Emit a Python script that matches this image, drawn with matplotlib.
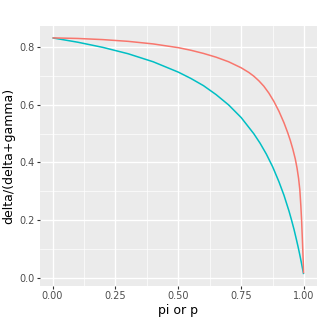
import matplotlib
matplotlib.use("Agg")
import matplotlib.pyplot as plt
from matplotlib.ticker import MultipleLocator

# values
red_p = [0, 0.1, 0.2, 0.3, 0.4, 0.5, 0.55, 0.6, 0.65, 0.7, 0.75, 0.78, 0.8, 0.82, 0.84,
         0.86, 0.88, 0.9, 0.92, 0.935, 0.945, 0.955, 0.965, 0.972, 0.978, 0.983, 0.987,
         0.99, 0.993, 0.995, 0.997, 0.998]
red_v = [0.833, 0.831, 0.827, 0.821, 0.812, 0.799, 0.790, 0.779, 0.766, 0.750, 0.729,
         0.713, 0.700, 0.684, 0.665, 0.641, 0.612, 0.578, 0.538, 0.503, 0.477, 0.447,
         0.412, 0.380, 0.345, 0.305, 0.250, 0.200, 0.135, 0.090, 0.045, 0.015]

teal_p = [0, 0.1, 0.2, 0.3, 0.4, 0.5, 0.55, 0.6, 0.65, 0.7, 0.75, 0.8, 0.825, 0.85,
          0.875, 0.9, 0.92, 0.94, 0.95, 0.96, 0.97, 0.975, 0.98, 0.985, 0.99, 0.998]
teal_v = [0.833, 0.818, 0.800, 0.778, 0.750, 0.714, 0.692, 0.667, 0.636, 0.600, 0.556,
          0.500, 0.467, 0.429, 0.385, 0.333, 0.286, 0.231, 0.200, 0.167, 0.130, 0.111,
          0.091, 0.070, 0.048, 0.012]

x_ticks = [0.0, 0.25, 0.5, 0.75, 1.0]
y_ticks = [0.0, 0.2, 0.4, 0.6, 0.8]

fig = plt.figure(figsize=(3.22, 3.22), dpi=100)
ax = fig.add_axes([0.124, 0.112, 0.8595, 0.807])
ax.set_facecolor("#EBEBEB")

ax.plot(teal_p, teal_v, color="#00BFC4", lw=1.1, solid_capstyle="butt")
ax.plot(red_p, red_v, color="#F8766D", lw=1.1, solid_capstyle="butt")

ax.set_xlim(-0.05, 1.05)
ax.set_ylim(-0.029, 0.874)
ax.set_xticks(x_ticks)
ax.set_xticklabels(["0.00", "0.25", "0.50", "0.75", "1.00"])
ax.set_yticks(y_ticks)
ax.set_yticklabels(["0.0", "0.2", "0.4", "0.6", "0.8"])
ax.xaxis.set_minor_locator(MultipleLocator(0.125))
ax.yaxis.set_minor_locator(MultipleLocator(0.1))

ax.grid(which="major", color="white", lw=1.0)
ax.grid(which="minor", color="white", lw=0.5)
ax.set_axisbelow(True)
for s in ax.spines.values():
    s.set_visible(False)

ax.tick_params(which="major", length=2.5, width=0.8, color="#333333",
               labelsize=7, labelcolor="#4D4D4D", pad=1.5)
ax.tick_params(which="minor", length=0)

ax.set_xlabel("pi or p", fontsize=9, labelpad=2)
ax.set_ylabel("delta/(delta+gamma)", fontsize=9, labelpad=3)

fig.savefig("out.png", dpi=100)
